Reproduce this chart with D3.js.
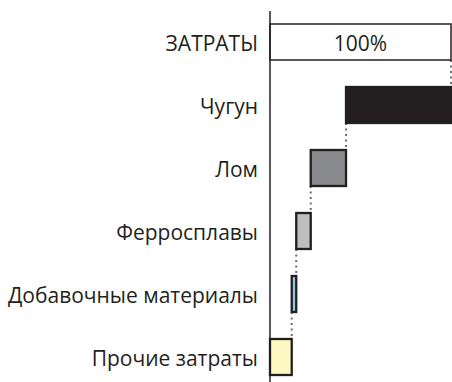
<!DOCTYPE html>
<html>
<head>
<meta charset="utf-8">
<script src="https://cdn.jsdelivr.net/npm/d3@7"></script>
<style>
    body { margin: 0; background: #fff; }
    text { font-family: 'Open Sans', sans-serif; fill: #231f20; }
</style>
</head>
<body>
<div id="plot"></div>
<script>
'use strict';

let categories = ['ЗАТРАТЫ', 'Чугун', 'Лом', 'Ферросплавы', 'Добавочные материалы', 'Прочие затраты'],
    shares = [100, 58, 19.5, 8, 2.5, 12],
    fills = ['#ffffff', '#231f20', '#898a8d', '#bcbec0', '#8ecae6', '#fff8c2'],
    totalLabel = '100%';

let svgWidth = 452,
    svgHeight = 382,
    axisX = 270,
    fontSize = 21,
    ink = '#231f20',
    svg = d3.select('#plot').append('svg')
        .attr('width', svgWidth)
        .attr('height', svgHeight);

// waterfall: first bar is the total, the rest step down from it
let running = 100;
let data = categories.map((c, i) => {
    if (i === 0) return {name: c, start: 0, end: shares[0], fill: fills[0]};
    let d = {name: c, start: running - shares[i], end: running, fill: fills[i]};
    running -= shares[i];
    return d;
});

let xScale = d3.scaleLinear().domain([0, 100]).range([axisX, 451]);
let yScale = d3.scaleBand()
    .domain(categories)
    .range([24, 375])
    .paddingInner(0.4286)
    .paddingOuter(0);

// dotted connectors
svg.append('g').selectAll('line')
    .data(data.slice(1))
    .enter().append('line')
    .attr('x1', d => xScale(d.end))
    .attr('x2', d => xScale(d.end))
    .attr('y1', (d, i) => yScale(categories[i]) + yScale.bandwidth())
    .attr('y2', d => yScale(d.name))
    .attr('stroke', '#6d6e71')
    .attr('stroke-width', 2)
    .attr('stroke-dasharray', '2 3.5');

svg.append('g').selectAll('rect')
    .data(data)
    .enter().append('rect')
    .attr('x', d => xScale(d.start))
    .attr('y', d => yScale(d.name))
    .attr('width', d => xScale(d.end) - xScale(d.start))
    .attr('height', yScale.bandwidth())
    .attr('fill', d => d.fill)
    .attr('stroke', ink)
    .attr('stroke-width', (d, i) => i === 0 ? 1.5 : 2.3);

svg.append('text')
    .attr('x', (xScale(0) + xScale(100)) / 2)
    .attr('y', yScale(categories[0]) + yScale.bandwidth() / 2)
    .attr('dy', '0.41em')
    .attr('text-anchor', 'middle')
    .style('font-size', fontSize + 'px')
    .text(totalLabel);

let yAxis = d3.axisLeft(yScale).tickSize(0).tickPadding(12);
let axisG = svg.append('g')
    .attr('transform', `translate(${axisX}, 0)`)
    .call(yAxis);
axisG.select('.domain').remove();
axisG.selectAll('text')
    .attr('dy', '0.42em')
    .style('font-size', fontSize + 'px')
    .style('font-family', "'Open Sans', sans-serif")
    .attr('fill', ink);

svg.append('line')
    .attr('x1', axisX).attr('x2', axisX)
    .attr('y1', 11).attr('y2', svgHeight)
    .attr('stroke', ink)
    .attr('stroke-width', 1.5);
</script>
</body>
</html>
